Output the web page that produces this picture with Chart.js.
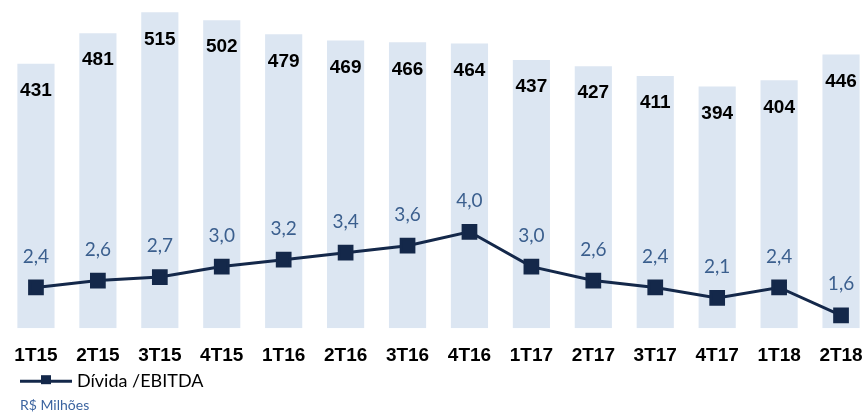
<!DOCTYPE html>
<html><head><meta charset="utf-8">
<script src="https://cdn.jsdelivr.net/npm/chart.js@4"></script>
<style>
html,body{margin:0;padding:0;background:#fff;overflow:hidden;width:867px;height:416px;}
#wrap{position:absolute;left:0;top:0;width:872px;height:416px;}
#unit{position:absolute;left:20px;top:396px;font-family:Lato,'Open Sans',sans-serif;font-size:14px;color:#3c64a0;}
</style></head>
<body>
<div id="wrap"><canvas id="c"></canvas></div>
<div id="unit">R$ Milhões</div>
<script>
const categories = ['1T15','2T15','3T15','4T15','1T16','2T16','3T16','4T16','1T17','2T17','3T17','4T17','1T18','2T18'];
const divida = [431,481,515,502,479,469,466,464,437,427,411,394,404,446];
const dividaEbitda = [2.4,2.6,2.7,3.0,3.2,3.4,3.6,4.0,3.0,2.6,2.4,2.1,2.4,1.6];
const legendText = 'Dívida /EBITDA';

const labelPlugin = {
  id: 'labels',
  afterDatasetsDraw(chart) {
    const ctx = chart.ctx;
    ctx.save();
    const barMeta = chart.getDatasetMeta(1);
    ctx.font = 'bold 19px "Liberation Sans", Arial, sans-serif';
    ctx.fillStyle = '#000';
    ctx.textAlign = 'center';
    ctx.textBaseline = 'middle';
    barMeta.data.forEach((el, i) => {
      ctx.fillText(String(divida[i]), el.x, el.y + 27);
    });
    const lineMeta = chart.getDatasetMeta(0);
    ctx.font = '19px Lato, "Open Sans", sans-serif';
    ctx.fillStyle = '#3b5f8e';
    lineMeta.data.forEach((el, i) => {
      ctx.fillText(dividaEbitda[i].toFixed(1).replace('.', ','), el.x, el.y - 31);
    });
    // legend
    const ly = chart.chartArea.bottom + 53;
    ctx.strokeStyle = '#14284a';
    ctx.lineWidth = 3;
    ctx.beginPath(); ctx.moveTo(20, ly); ctx.lineTo(72, ly); ctx.stroke();
    ctx.fillStyle = '#14284a';
    ctx.fillRect(41, ly - 6, 10, 9);
    ctx.font = '18px Lato, "Open Sans", sans-serif';
    ctx.fillStyle = '#000';
    ctx.textAlign = 'left';
    ctx.fillText(legendText, 77, ly);
    ctx.restore();
  }
};

new Chart(document.getElementById('c'), {
  data: {
    labels: categories,
    datasets: [
      { type: 'line', data: dividaEbitda, yAxisID: 'y2', borderColor: '#14284a', borderWidth: 3,
        pointStyle: 'rect', pointRadius: 9, pointBackgroundColor: '#14284a', pointBorderColor: '#14284a',
        tension: 0, order: 0 },
      { type: 'bar', data: divida, yAxisID: 'y', backgroundColor: '#dce6f2', barPercentage: 0.6,
        categoryPercentage: 1, order: 1 }
    ]
  },
  options: {
    responsive: true, maintainAspectRatio: false, animation: false,
    devicePixelRatio: 1,
    layout: { autoPadding: false, padding: { left: 5, right: 0, top: 0, bottom: 41 } },
    plugins: { legend: { display: false }, tooltip: { enabled: false } },
    scales: {
      x: { grid: { display: false }, border: { display: false },
           ticks: { color: '#000', font: { family: '"Liberation Sans", Arial, sans-serif', size: 19, weight: 'bold' }, padding: 8, maxRotation: 0, autoSkip: false } },
      y: { display: false, min: 0, max: 535 },
      y2: { display: false, min: 1.23, max: 10.66 }
    }
  },
  plugins: [labelPlugin]
});
</script>
</body></html>
